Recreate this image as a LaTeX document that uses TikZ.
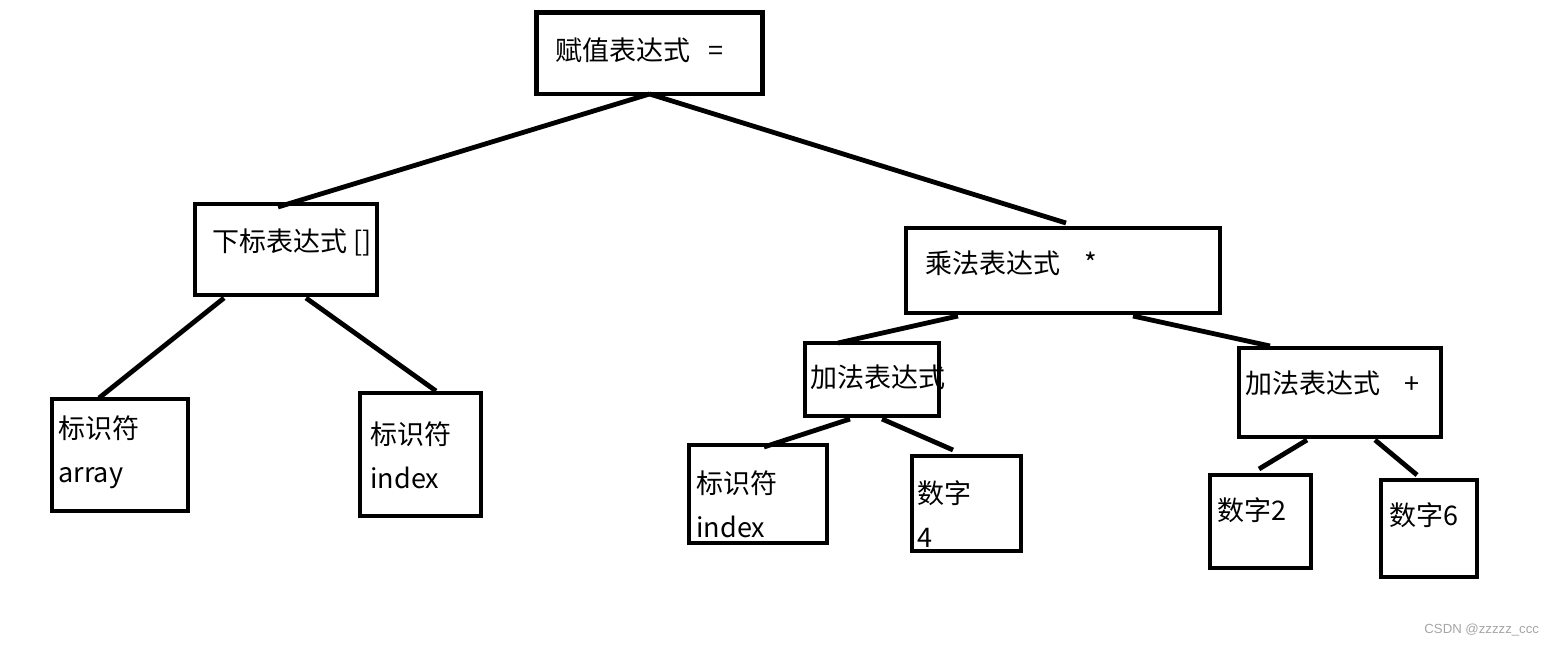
\documentclass[tikz,border=0pt]{standalone}
\usepackage{fontspec}
\usepackage{xcolor}
\usepackage{tikz}
\usetikzlibrary{calc}
\newfontfamily\cjk{Noto Sans CJK SC}
\newfontfamily\wmfont{Liberation Sans}
\definecolor{wmgray}{RGB}{165,165,165}
\tikzset{
    box/.style = {draw, line width=2.4pt, inner sep=0pt, outer sep=0pt},
    lbl/.style = {anchor=west, inner sep=0pt, align=left,
                  font=\cjk\fontsize{13.5pt}{22pt}\selectfont},
    edge/.style = {line width=2.4pt}
}
\begin{document}
\begin{tikzpicture}[x=0.5pt,y=-0.5pt]
    \useasboundingbox (0,0) rectangle (1553,651);
    % boxes
    \node[box, minimum width=113pt, minimum height=40.75pt] (assign) at (649.5,53.25) {};
    \node[box, minimum width=91pt, minimum height=45.5pt] (subscr) at (286,249.5) {};
    \node[box, minimum width=157pt, minimum height=42.5pt] (mult) at (1063,270.5) {};
    \node[box, minimum width=68pt, minimum height=56pt] (idarray) at (120,455) {};
    \node[box, minimum width=60.5pt, minimum height=61.5pt] (idindex) at (420.5,454.5) {};
    \node[box, minimum width=67pt, minimum height=36.5pt] (addl) at (872,379.5) {};
    \node[box, minimum width=101pt, minimum height=44.5pt] (addr) at (1340,392.5) {};
    \node[box, minimum width=69pt, minimum height=49pt] (idindexb) at (758,494) {};
    \node[box, minimum width=54.5pt, minimum height=47.5pt] (numfour) at (966.5,503.5) {};
    \node[box, minimum width=50.5pt, minimum height=46.5pt] (numtwo) at (1260.5,521.5) {};
    \node[box, minimum width=48pt, minimum height=48.5pt] (numsix) at (1429,528.5) {};
    % texts
    \node[lbl] (assignt) at (555,50) {赋值表达式\hspace{9pt}=};
    \node[lbl] (subscrt) at (212,242) {下标表达式 []};
    \node[lbl] (multt) at (925,263) {乘法表达式\hspace{12pt}*};
    \node[lbl] (idarrayt) at (58,452) {标识符\\array};
    \node[lbl] (idindext) at (370,455) {标识符\\index};
    \node[lbl] (addlt) at (810,377) {加法表达式};
    \node[lbl] (addrt) at (1245,383) {加法表达式\hspace{12pt}+};
    \node[lbl] (idindexbt) at (696,504) {标识符\\index};
    \node[lbl] (numfourt) at (917,514) {数字\\4};
    \node[lbl] (numtwot) at (1217,510) {数字2};
    \node[lbl] (numsixt) at (1389,515) {数字6};
    % connectors
    \draw[edge] (assign.south) -- ($(subscr.north)+(-8,3)$);
    \draw[edge] (assign.south) -- ($(mult.north)+(3,-5)$);
    \draw[edge] ($(subscr.south)+(-62,3)$) -- ($(idarray.north)+(-21,-1)$);
    \draw[edge] ($(subscr.south)+(20,3)$) -- ($(idindex.north)+(15.5,-2)$);
    \draw[edge] ($(mult.south)+(-105,3)$) -- ($(addl.north)+(-34,0)$);
    \draw[edge] ($(mult.south)+(70,3)$) -- ($(addr.north)+(-70,-2)$);
    \draw[edge] ($(addl.south)+(-22,3)$) -- ($(idindexb.north)+(6,2)$);
    \draw[edge] ($(addl.south)+(10,3)$) -- ($(numfour.north)+(-13.5,-6)$);
    \draw[edge] ($(addr.south)+(-33,3)$) -- ($(numtwo.north)+(-1.5,-6)$);
    \draw[edge] ($(addr.south)+(35,3)$) -- ($(numsix.north)+(-12,-5)$);
    % watermark
    \node[anchor=west, inner sep=0pt, text=wmgray, font=\wmfont\fontsize{6.6pt}{8pt}\selectfont]
        (mark) at (1424,630) {CSDN @zzzzz\_ccc};
\end{tikzpicture}
\end{document}
